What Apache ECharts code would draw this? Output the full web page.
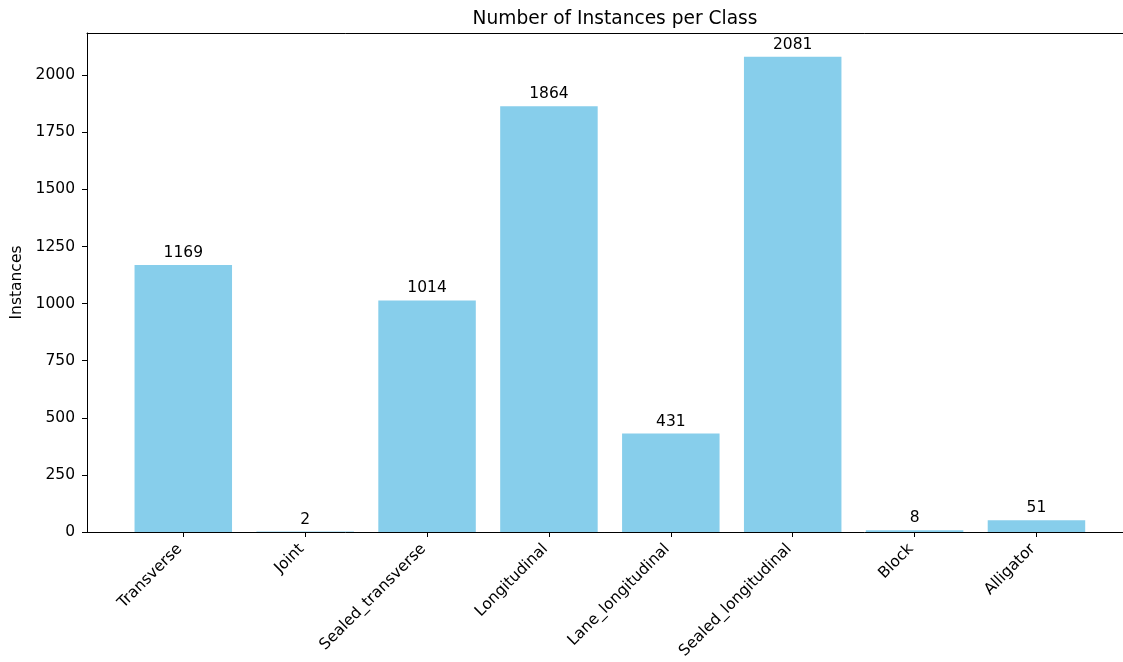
<!DOCTYPE html>
<html><head><meta charset="utf-8">
<script src="https://cdn.jsdelivr.net/npm/echarts@6/dist/echarts.min.js"></script>
<style>html,body{margin:0;padding:0;background:#fff}#c{width:1123px;height:662px}</style>
</head><body><div id="c"></div>
<script>
const categories = ["Transverse","Joint","Sealed_transverse","Longitudinal","Lane_longitudinal","Sealed_longitudinal","Block","Alligator"];
const instances = [1169, 2, 1014, 1864, 431, 2081, 8, 51];
const yTicks = [0, 250, 500, 750, 1000, 1250, 1500, 1750, 2000];
const xTicks = categories.map((c, i) => i);

const font = 'DejaVu Sans';
const chart = echarts.init(document.getElementById('c'), null, {renderer: 'canvas'});
const yMax = Math.max(...instances) * 1.05;
const spine = {show: true, onZero: false, lineStyle: {color: '#000', width: 1}};
chart.setOption({
  animation: false,
  backgroundColor: '#fff',
  title: {
    text: 'Number of Instances per Class',
    left: 610, top: 5, textAlign: 'center',
    textStyle: {fontFamily: font, fontSize: 18.6, fontWeight: 'normal', color: '#000'}
  },
  grid: {left: 87, top: 33, right: 0, height: 499, outerBoundsMode: 'none', containLabel: false},
  xAxis: [{
    type: 'value', min: -0.79, max: 7.71,
    splitLine: {show: false},
    axisLine: spine,
    axisTick: {show: true, length: 5, customValues: xTicks, lineStyle: {color: '#000'}},
    axisLabel: {
      customValues: xTicks, rotate: 45, margin: 11, padding: [0, 5, 0, 0],
      fontFamily: font, fontSize: 15.5, color: '#000',
      formatter: v => categories[Math.round(v)] || ''
    }
  }, {
    type: 'value', position: 'top', min: -0.79, max: 7.71,
    splitLine: {show: false}, axisLine: spine,
    axisTick: {show: false}, axisLabel: {show: false}
  }],
  yAxis: {
    type: 'value', min: 0, max: yMax,
    name: 'Instances', nameLocation: 'middle', nameGap: 52,
    nameTextStyle: {fontFamily: font, fontSize: 15.5, color: '#000'},
    splitLine: {show: false},
    axisLine: spine,
    axisTick: {show: true, length: 5, customValues: yTicks, lineStyle: {color: '#000'}},
    axisLabel: {customValues: yTicks, margin: 12, fontFamily: font, fontSize: 15.5, color: '#000',
      formatter: v => String(v)}
  },
  series: [{
    type: 'bar',
    xAxisIndex: 0,
    data: instances.map((v, i) => [i, v]),
    barWidth: 97.5,
    itemStyle: {color: '#87CEEB'},
    label: {show: true, position: 'top', distance: 4, fontFamily: font, fontSize: 15.5, color: '#000',
      formatter: p => String(p.value[1])}
  }]
});
</script></body></html>
